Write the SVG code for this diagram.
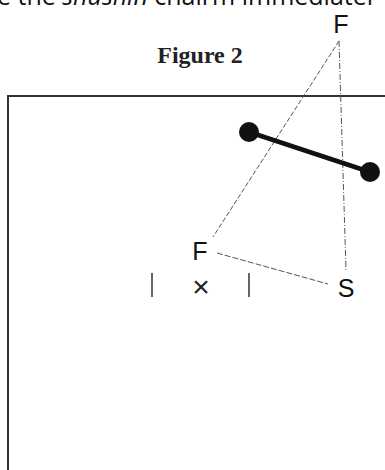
<svg xmlns="http://www.w3.org/2000/svg" width="385" height="470" viewBox="0 0 385 470">
<style>
.lbl{font-family:"Liberation Sans",Arial,sans-serif;font-size:25px;fill:#111;text-anchor:middle}
.thin{stroke:#555;stroke-width:1;fill:none}
</style>
<rect width="385" height="470" fill="#fff"/>
<text x="-3" y="5" font-family="'Open Sans',sans-serif" font-size="25" fill="#111">e the <tspan font-style="italic">shushin</tspan> chairm immediatel</text>
<text x="200" y="63" font-family="'Liberation Serif',serif" font-weight="bold" font-size="24" fill="#222" text-anchor="middle">Figure 2</text>
<g id="frame">
<path d="M8 470 V96 H385" fill="none" stroke="#333" stroke-width="2"/>
</g>
<g id="connectors">
<line class="thin" x1="339" y1="41" x2="213" y2="237" stroke-dasharray="5 2"/>
<line class="thin" x1="339" y1="41" x2="346" y2="270" stroke-dasharray="6 2 1 2"/>
<line class="thin" x1="217" y1="253" x2="328" y2="284" stroke-dasharray="6 2"/>
</g>
<g id="dumbbell">
<line x1="249" y1="132" x2="370" y2="172" stroke="#111" stroke-width="4.5"/>
<circle cx="249" cy="132" r="10" fill="#111"/>
<circle cx="370" cy="172" r="10" fill="#111"/>
</g>
<g id="F-top"><text class="lbl" x="341" y="33">F</text></g>
<g id="F-mid"><text class="lbl" x="200" y="260">F</text></g>
<g id="S"><text class="lbl" x="346" y="297">S</text></g>
<g id="marks">
<line x1="152" y1="273" x2="152" y2="297" stroke="#333" stroke-width="1.5"/>
<text x="201" y="297" font-family="'Liberation Sans',Arial,sans-serif" font-size="30" fill="#222" text-anchor="middle">×</text>
<line x1="249" y1="273" x2="249" y2="297" stroke="#333" stroke-width="1.5"/>
</g>
</svg>
